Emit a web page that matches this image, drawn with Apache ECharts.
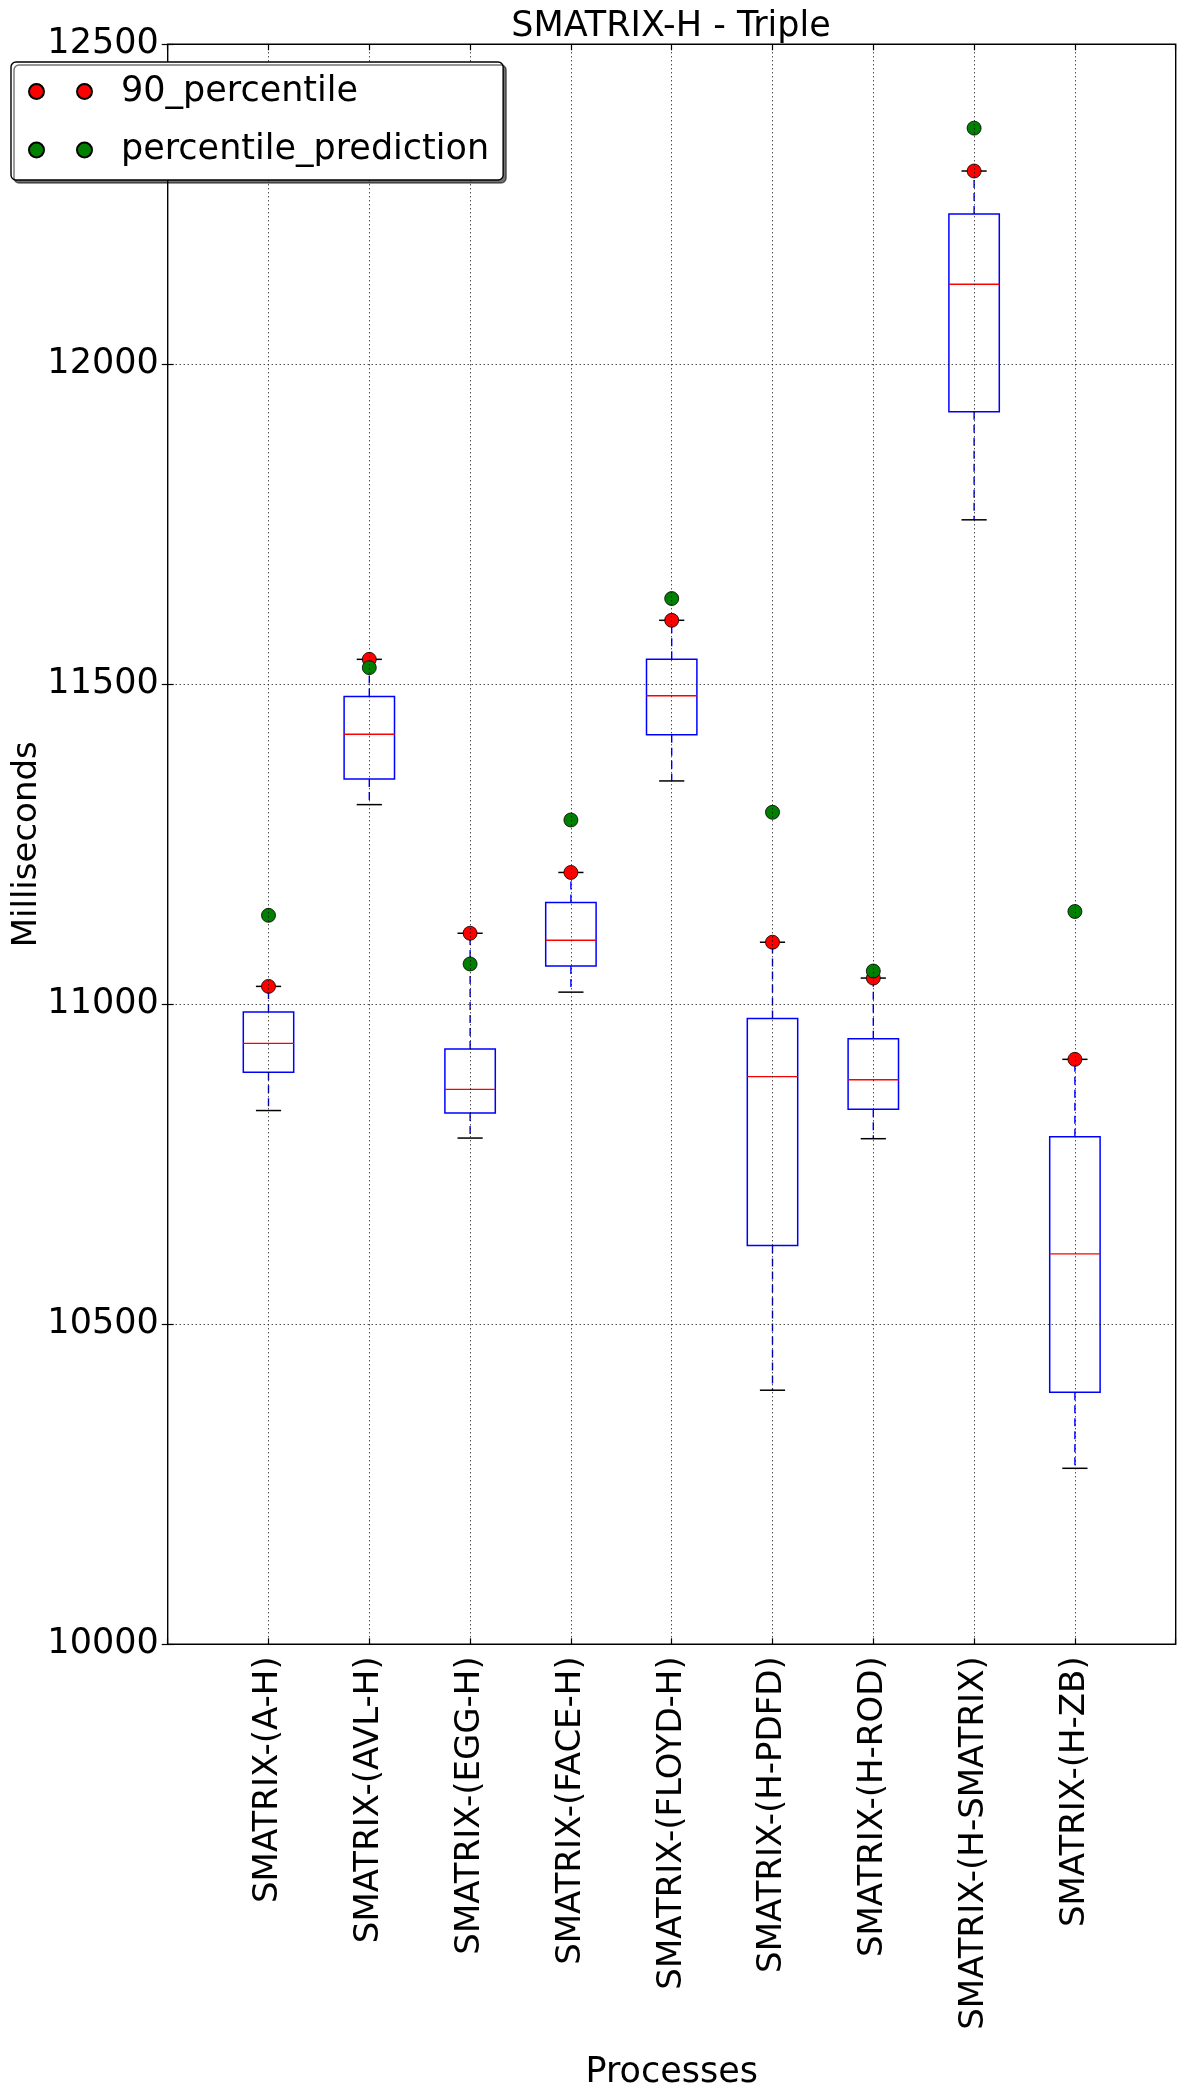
<!DOCTYPE html>
<html>
<head>
<meta charset="utf-8">
<script src="https://cdn.jsdelivr.net/npm/echarts@6/dist/echarts.min.js"></script>
<style>
html,body{margin:0;padding:0;background:#fff;}
#chart{width:1184px;height:2088px;}
</style>
</head>
<body>
<div id="chart"></div>
<script>
var categories = ['SMATRIX-(A-H)','SMATRIX-(AVL-H)','SMATRIX-(EGG-H)','SMATRIX-(FACE-H)','SMATRIX-(FLOYD-H)','SMATRIX-(H-PDFD)','SMATRIX-(H-ROD)','SMATRIX-(H-SMATRIX)','SMATRIX-(H-ZB)'];
var whiskerLow  = [10834, 11312, 10791, 11019, 11349, 10397, 10790, 11757, 10275];
var q1          = [10894, 11352, 10830, 11060, 11421, 10623, 10836, 11926, 10394];
var median      = [10939, 11422, 10867, 11100, 11482, 10887, 10882, 12125, 10610];
var q3          = [10988, 11481, 10930, 11159, 11539, 10978, 10946, 12235, 10793];
var whiskerHigh = [11028, 11539, 11111, 11206, 11600, 11097, 11041, 12302, 10914];
var p90         = [11028, 11539, 11111, 11206, 11600, 11097, 11041, 12302, 10914];
var prediction  = [11139, 11526, 11063, 11288, 11634, 11300, 11052, 12369, 11145];
var yTicks = [10000, 10500, 11000, 11500, 12000, 12500];

var FONT = 'DejaVu Sans';
var FSH = 35;   // horizontal text
var FSV = 34;   // rotated text

var boxData = categories.map(function (c, i) {
  return [i + 1, whiskerLow[i], q1[i], median[i], q3[i], whiskerHigh[i]];
});
var redData = categories.map(function (c, i) { return [i + 1, p90[i]]; });
var greenData = categories.map(function (c, i) { return [i + 1, prediction[i]]; });

function renderBox(params, api) {
  var x = api.value(0);
  var lo = api.value(1), a = api.value(2), m = api.value(3), b = api.value(4), hi = api.value(5);
  var half = 0.25, capHalf = 0.125;
  var pTL = api.coord([x - half, b]);
  var pBR = api.coord([x + half, a]);
  var c = api.coord([x, m]);
  var pLo = api.coord([x, lo]);
  var pHi = api.coord([x, hi]);
  var pQ1 = api.coord([x, a]);
  var pQ3 = api.coord([x, b]);
  var capL = api.coord([x - capHalf, lo])[0];
  var capR = api.coord([x + capHalf, lo])[0];
  var dash = { stroke: '#0000ff', lineWidth: 1.4, lineDash: [8, 5], fill: null };
  var solidBlack = { stroke: '#000000', lineWidth: 1.5, fill: null };
  return {
    type: 'group',
    children: [
      { type: 'line', shape: { x1: pQ3[0], y1: pQ3[1], x2: pHi[0], y2: pHi[1] }, style: dash },
      { type: 'line', shape: { x1: pQ1[0], y1: pQ1[1], x2: pLo[0], y2: pLo[1] }, style: dash },
      { type: 'line', shape: { x1: capL, y1: pHi[1], x2: capR, y2: pHi[1] }, style: solidBlack },
      { type: 'line', shape: { x1: capL, y1: pLo[1], x2: capR, y2: pLo[1] }, style: solidBlack },
      { type: 'rect', shape: { x: pTL[0], y: pTL[1], width: pBR[0] - pTL[0], height: pBR[1] - pTL[1] },
        style: { stroke: '#0000ff', lineWidth: 1.5, fill: null } },
      { type: 'line', shape: { x1: pTL[0], y1: c[1], x2: pBR[0], y2: c[1] },
        style: { stroke: '#ff0000', lineWidth: 1.4, fill: null } }
    ]
  };
}

var chart = echarts.init(document.getElementById('chart'), null, { renderer: 'canvas' });
var twoDots = 'path://M0,7.5A7.5,7.5,0,1,0,15,7.5A7.5,7.5,0,1,0,0,7.5ZM48,7.5A7.5,7.5,0,1,0,63,7.5A7.5,7.5,0,1,0,48,7.5Z';

var option = {
  backgroundColor: '#ffffff',
  animation: false,
  textStyle: { fontFamily: FONT, color: '#000' },
  title: {
    text: 'SMATRIX-H - Triple',
    left: 671,
    top: 9,
    padding: 0,
    textAlign: 'center',
    textStyle: { fontFamily: FONT, fontSize: FSH, fontWeight: 'normal', color: '#000' }
  },
  legend: {
    orient: 'vertical',
    left: 11,
    top: 62,
    z: 20,
    selectedMode: false,
    itemWidth: 63,
    itemHeight: 15,
    itemGap: 23.5,
    padding: [12, 14, 12.5, 17],
    backgroundColor: '#ffffff',
    borderColor: '#000000',
    borderWidth: 1.4,
    borderRadius: 5,
    shadowColor: 'rgba(0,0,0,0.55)',
    shadowBlur: 0,
    shadowOffsetX: 3,
    shadowOffsetY: 3,
    textStyle: { fontFamily: FONT, fontSize: FSH, color: '#000', lineHeight: 33, padding: [0, 0, 0, 24] },
    data: [
      { name: '90_percentile', icon: twoDots },
      { name: 'percentile_prediction', icon: twoDots }
    ]
  },
  grid: {
    left: 167.7,
    right: 8.3,
    top: 44.3,
    bottom: 443.7,
    outerBoundsMode: 'none',
    containLabel: false,
    show: true,
    borderColor: '#000000',
    borderWidth: 1.4,
    backgroundColor: 'transparent'
  },
  xAxis: [{
    type: 'value',
    min: 0, max: 10, interval: 1,
    z: 10,
    name: 'Processes',
    nameLocation: 'middle',
    nameGap: 411,
    nameMoveOverlap: false,
    nameTextStyle: { fontFamily: FONT, fontSize: FSH, color: '#000' },
    axisLine: { show: false },
    axisTick: { show: true, inside: true, length: 6, lineStyle: { color: '#000', width: 1.2 } },
    axisLabel: {
      rotate: 90, margin: 12, fontFamily: FONT, fontSize: FSV, color: '#000',
      formatter: function (v) { return (v >= 1 && v <= categories.length) ? categories[v - 1] : ''; }
    },
    splitLine: { show: true, lineStyle: { color: '#000', width: 1, type: [1, 3] } }
  }, {
    type: 'value',
    position: 'top',
    min: 0, max: 10, interval: 1,
    z: 10,
    axisLine: { show: false },
    axisTick: { show: true, inside: true, length: 6, lineStyle: { color: '#000', width: 1.2 } },
    axisLabel: { show: false },
    splitLine: { show: false }
  }],
  yAxis: [{
    type: 'value',
    min: yTicks[0], max: yTicks[yTicks.length - 1], interval: 500,
    z: 10,
    name: 'Milliseconds',
    nameLocation: 'middle',
    nameGap: 124,
    nameMoveOverlap: false,
    nameTextStyle: { fontFamily: FONT, fontSize: FSV, color: '#000' },
    axisLine: { show: false },
    axisTick: { show: true, inside: true, length: 6, lineStyle: { color: '#000', width: 1.2 } },
    axisLabel: { margin: 9, fontFamily: FONT, fontSize: FSH, color: '#000', formatter: function (v) { return String(v); } },
    splitLine: { show: true, lineStyle: { color: '#000', width: 1, type: [1, 3] } }
  }, {
    type: 'value',
    position: 'right',
    min: yTicks[0], max: yTicks[yTicks.length - 1], interval: 500,
    z: 10,
    axisLine: { show: false },
    axisTick: { show: true, inside: true, length: 6, lineStyle: { color: '#000', width: 1.2 } },
    axisLabel: { show: false },
    splitLine: { show: false }
  }],
  series: [{
    type: 'custom',
    name: 'boxes',
    xAxisIndex: 0, yAxisIndex: 0,
    renderItem: renderBox,
    encode: { x: 0, y: [1, 2, 3, 4, 5] },
    data: boxData,
    z: 2
  }, {
    type: 'scatter',
    name: '90_percentile',
    xAxisIndex: 0, yAxisIndex: 0,
    symbol: 'circle',
    symbolSize: 14,
    itemStyle: { color: '#ff0000', borderColor: '#000', borderWidth: 0.8, opacity: 1 },
    data: redData,
    z: 3
  }, {
    type: 'scatter',
    name: 'percentile_prediction',
    xAxisIndex: 0, yAxisIndex: 0,
    symbol: 'circle',
    symbolSize: 14,
    itemStyle: { color: '#008000', borderColor: '#000', borderWidth: 0.8, opacity: 1 },
    data: greenData,
    z: 4
  }]
};
chart.setOption(option);
</script>
</body>
</html>
